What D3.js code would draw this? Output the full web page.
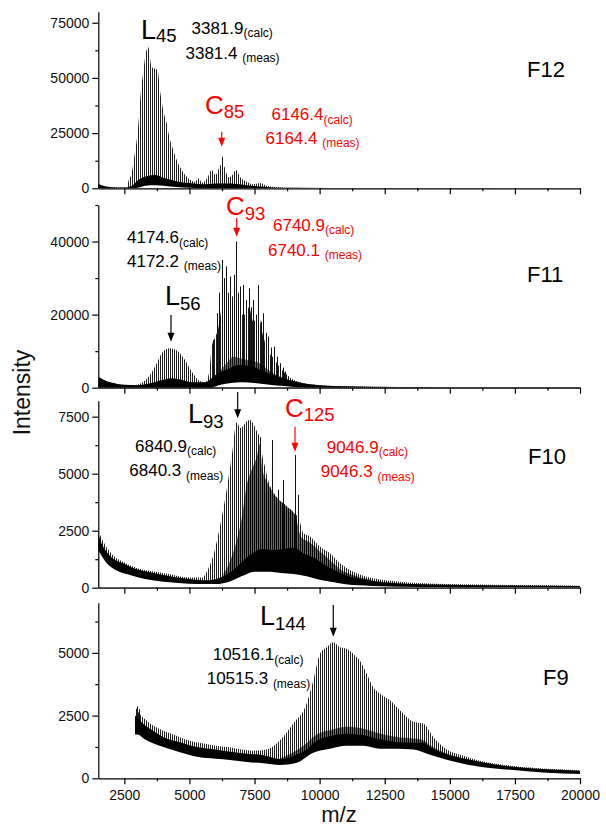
<!DOCTYPE html>
<html>
<head>
<meta charset="utf-8">
<script src="https://cdn.jsdelivr.net/npm/d3@7"></script>
<style>
body { margin: 0; background: #fff; }
svg { font-family: "Liberation Sans", Arial, sans-serif; }
</style>
</head>
<body>
<svg width="606" height="829"></svg>
<script>
// shared m/z axis
var mzDomain = [1500, 20000];
var mzMajor = [2500, 5000, 7500, 10000, 12500, 15000, 17500, 20000];
var mzMinor = [3750, 6250, 8750, 11250, 13750, 16250, 18750];

// fractions, top to bottom
var fractions = ['F12', 'F11', 'F10', 'F9'];
var yMax = [80000, 50000, 8200, 7000];
var yMajor = [[0, 25000, 50000, 75000], [0, 20000, 40000], [0, 2500, 5000, 7500], [0, 2500, 5000]];
var yMinor = [[12500, 37500, 62500], [10000, 30000, 50000], [1250, 3750, 6250], [1250, 3750, 6250]];

// [m/z, intensity]
// Env = tips of the dense spike series, Core = darker overlapped series,
// Band = solid black trace, BandLow = lower edge of that trace, Spikes = isolated tall peaks
var f12Env = [[1500,2000],[1800,800],[2200,400],[2600,400],[2652,3000],[2783,6900],[2882,14300],[2975,21800],[3063,32300],[3140,44400],[3228,52600],[3320,61000],[3420,63900],[3551,54900],[3677,54100],[3781,53400],[3869,44400],[3996,35300],[4127,29500],[4227,23300],[4380,17300],[4511,12800],[4703,8300],[4956,4600],[5213,3000],[5340,4600],[5500,2500],[5700,5000],[5855,8300],[6000,6000],[6170,10000],[6240,11000],[6330,10000],[6500,5000],[6650,6000],[6790,8300],[6950,5000],[7200,3000],[7450,1800],[7710,2400],[8000,1000],[8500,400],[9000,250],[10000,150],[12000,100],[20000,50]];
var f12Core = [];
var f12Band = [[1500,1900],[1700,1000],[2000,500],[2500,350],[2800,1200],[3035,3750],[3294,5200],[3677,6000],[4060,4500],[4572,3000],[5087,2250],[5500,1800],[6000,2200],[6400,2200],[6800,2000],[7200,1400],[7700,800],[8200,400],[9000,200],[12000,100],[20000,50]];
var f12BandLow = [[1500,0],[2800,0],[3100,500],[3300,1200],[3700,1400],[4000,1200],[4500,600],[5000,200],[5500,0],[20000,0]];
var f12Spikes = [[6240,14300]];

var f11Env = [[1500,3000],[1800,1800],[2200,1000],[2800,600],[3200,1500],[3485,3500],[3743,6700],[3935,9400],[4100,10500],[4254,10800],[4400,10600],[4572,9900],[4830,7600],[5087,4400],[5340,2100],[5598,1400],[5750,4000],[5855,11000],[6000,14000],[6100,16000],[6239,22000],[6400,24000],[6558,22000],[6700,24000],[6850,21000],[7000,20000],[7150,20000],[7287,22000],[7453,18000],[7645,20000],[7837,14000],[8030,10000],[8247,8000],[8478,5500],[8670,4000],[8862,2800],[9180,1600],[9500,1000],[10000,700],[11000,400],[13000,200],[20000,100]];
var f11Core = [[5800,1500],[6100,4000],[6400,6500],[6700,8500],[7000,8000],[7300,7500],[7600,7000],[7900,5500],[8200,4000],[8500,3000],[8900,2000],[9300,1200]];
var f11Band = [[1500,3000],[1700,2200],[2000,1400],[2500,800],[3000,700],[3500,1200],[4000,2200],[4300,2600],[4700,2200],[5100,1500],[5600,1500],[6000,3500],[6500,5200],[6900,6200],[7300,6000],[7700,5000],[8100,3800],[8500,2800],[9000,1800],[9500,1100],[10000,700],[11000,400],[13000,200],[20000,100]];
var f11BandLow = [[1500,0],[5800,0],[6200,800],[6600,1300],[7000,1500],[7500,1300],[8000,900],[8500,500],[9000,200],[9500,0],[20000,0]];
var f11Spikes = [[5900,13000],[6047,20400],[6150,26000],[6239,35000],[6320,30000],[6404,33200],[6480,26000],[6558,30400],[6640,25000],[6711,30900],[6788,40000],[6870,26000],[6942,27700],[7070,28100],[7160,24000],[7287,27200],[7370,22000],[7453,24000],[7540,20000],[7645,28100],[7737,18000],[7837,20400],[7930,15000],[8030,14000],[8140,11000],[8247,11200],[8360,8500],[8478,6700],[8580,5500],[8670,4400]];

var f10Env = [[1500,2500],[1700,2000],[2000,1500],[2500,1100],[3000,850],[4000,650],[5000,450],[5500,450],[5663,700],[5916,1400],[6173,2700],[6430,4300],[6623,5750],[6815,7250],[6950,7000],[7070,7100],[7200,7300],[7326,7350],[7450,7200],[7518,7050],[7610,6800],[7710,6600],[7800,5800],[7903,5300],[8050,4600],[8220,4200],[8412,3850],[8600,3700],[8796,3500],[8950,3300],[9180,3100],[9373,2400],[9630,2250],[10014,1800],[10398,1510],[10782,1070],[11293,700],[12061,410],[13086,260],[14879,160],[17437,120],[20000,90]];
var f10Core = [[6300,600],[6500,1000],[6800,2000],[7000,3000],[7200,4500],[7400,5200],[7600,5800],[7700,6300],[7800,5200],[8000,4600],[8200,4200],[8400,3900],[8600,3700],[8800,3500],[9000,3300],[9100,3000],[9300,2200],[9600,2000],[10000,1600],[10400,1200],[10800,800],[11300,550],[12000,350]];
var f10Band = [[1500,2350],[1600,2000],[1800,1600],[2100,1250],[2500,1050],[2720,920],[3300,720],[3996,560],[4700,420],[5280,340],[5700,330],[6200,450],[6600,700],[7000,1100],[7400,1500],[7800,1700],[8200,1650],[8600,1700],[9000,1750],[9400,1500],[9800,1300],[10200,1000],[10600,750],[11000,550],[11500,400],[12000,300],[13000,200],[15000,130],[17500,100],[20000,80]];
var f10BandLow = [[1500,1650],[1800,1100],[2200,750],[2720,560],[3300,380],[3996,260],[4700,200],[5280,160],[6000,160],[6500,250],[7000,500],[7500,700],[8000,700],[8500,650],[9000,600],[9500,500],[10000,350],[10500,250],[11000,150],[12000,80],[14000,30],[20000,10]];
var f10Spikes = [[7710,6600],[8159,6480],[8412,4300],[8604,4720],[9054,5820],[9180,4070]];

var f9Env = [[2909,2900],[3000,2700],[3300,2350],[3600,2100],[4000,1900],[4500,1700],[5000,1500],[5500,1400],[6000,1300],[6500,1250],[7000,1150],[7500,1100],[7967,1150],[8478,1520],[8990,2180],[9500,2980],[9756,3900],[10014,4960],[10270,5220],[10526,5420],[10782,5220],[11039,5160],[11293,4960],[11550,4690],[11807,4170],[12061,3630],[12318,3370],[12702,3110],[13086,2710],[13600,2250],[13980,2180],[14364,1650],[14880,1150],[15517,900],[16158,700],[17437,490],[18720,380],[20000,320]];
var f9Core = [[8478,790],[9119,1120],[9500,1400],[9756,1650],[10100,1850],[10398,1920],[11039,2050],[11677,1980],[12318,1790],[12960,1650],[13600,1590],[13980,1520],[14238,1320],[14880,990],[15500,800]];
var f9Band = [[2909,2500],[3000,2400],[3300,2100],[3600,1900],[3996,1650],[4600,1450],[5280,1250],[6000,1150],[6560,1060],[7200,980],[7837,920],[8478,770],[9119,950],[9500,1150],[9756,1400],[10100,1600],[10398,1680],[11039,1780],[11677,1720],[12318,1560],[12960,1450],[13600,1420],[13980,1420],[14238,1250],[14880,960],[15500,800],[16158,660],[17437,460],[18720,360],[20000,300]];
var f9BandLow = [[2909,1750],[3000,1750],[3300,1550],[3600,1400],[3996,1250],[4600,1050],[5280,860],[6000,780],[6560,730],[7200,650],[7837,600],[8478,530],[9119,620],[9756,1020],[10398,1180],[11039,1300],[11677,1300],[12318,1180],[12960,1180],[13600,1150],[14238,940],[14880,740],[16158,460],[17437,330],[18720,220],[20000,170]];
var f9Spikes = [[2973,2870],[3060,2750]];

var envs = [f12Env, f11Env, f10Env, f9Env];
var cores = [f12Core, f11Core, f10Core, f9Core];
var bands = [f12Band, f11Band, f10Band, f9Band];
var bandLows = [f12BandLow, f11BandLow, f10BandLow, f9BandLow];
var spikes = [f12Spikes, f11Spikes, f10Spikes, f9Spikes];

// layout
var left = 98.3, right = 580;
var panelTop = [11.7, 205, 400.7, 602.7];
var panelBottom = [188.3, 387.7, 587.7, 778.3];
var RED = '#ff0000';

// annotations: [panel, main, sub, x, y, size, subSize, subDy, colour]
var notes = [
  [0, 'L', '45', 141, 38.5, 27, 18.5, 3.5, '#000'],
  [0, '3381.9', '(calc)', 191.5, 33.5, 17, 12, 3.5, '#000'],
  [0, '3381.4 ', '(meas)', 185.5, 58.5, 17, 12, 3.5, '#000'],
  [0, 'C', '85', 205, 113.5, 26, 18.5, 4.5, RED],
  [0, '6146.4', '(calc)', 271.5, 120, 17, 12, 3.5, RED],
  [0, '6164.4 ', '(meas)', 265.5, 143.5, 17, 12, 3.5, RED],
  [0, 'F12', '', 527, 77, 22, 0, 0, '#000'],
  [1, '4174.6', '(calc)', 127, 243, 17, 12, 3.5, '#000'],
  [1, '4172.2 ', '(meas)', 127, 266.5, 17, 12, 3.5, '#000'],
  [1, 'C', '93', 226, 215, 26, 18.5, 4.5, RED],
  [1, '6740.9', '(calc)', 273, 230.5, 17, 12, 3.5, RED],
  [1, '6740.1 ', '(meas)', 268, 255.5, 17, 12, 3.5, RED],
  [1, 'L', '56', 165, 305, 27, 18.5, 4.5, '#000'],
  [1, 'F11', '', 527, 282, 22, 0, 0, '#000'],
  [2, 'L', '93', 188, 423.3, 27, 18.5, 4.5, '#000'],
  [2, 'C', '125', 285, 416.7, 26, 18.5, 4.5, RED],
  [2, '6840.9', '(calc)', 135, 451.5, 17, 12, 3.5, '#000'],
  [2, '6840.3 ', '(meas)', 129.3, 476, 17, 12, 3.5, '#000'],
  [2, '9046.9', '(calc)', 326.7, 452.7, 17, 12, 3.5, RED],
  [2, '9046.3 ', '(meas)', 320.7, 477.3, 17, 12, 3.5, RED],
  [2, 'F10', '', 528, 463.5, 22, 0, 0, '#000'],
  [3, 'L', '144', 260, 625, 27, 18.5, 4.5, '#000'],
  [3, '10516.1', '(calc)', 212.7, 660, 17, 12, 3.5, '#000'],
  [3, '10515.3 ', '(meas)', 206.7, 684, 17, 12, 3.5, '#000'],
  [3, 'F9', '', 543, 685, 22, 0, 0, '#000']
];
// arrows: [m/z, y from, y to (tip), colour]
var arrows = [
  [6240, 131.7, 146.7, RED],
  [6815, 218, 236.7, RED],
  [4292, 315, 341.7, '#000'],
  [6853, 392, 418.3, '#000'],
  [9054, 426.7, 451.7, RED],
  [10525, 605, 636.7, '#000']
];

var svg = d3.select('svg');
var defs = svg.append('defs');
// grey comb for the resolved spike series
var pat = defs.append('pattern').attr('id', 'stripes')
  .attr('patternUnits', 'userSpaceOnUse').attr('width', 2).attr('height', 4);
pat.append('rect').attr('width', 1).attr('height', 4).attr('fill', '#1e1e1e');
// darker comb where series overlap
var pat2 = defs.append('pattern').attr('id', 'dense')
  .attr('patternUnits', 'userSpaceOnUse').attr('width', 2).attr('height', 4);
pat2.append('rect').attr('width', 2).attr('height', 4).attr('fill', '#6a6a6a');
pat2.append('rect').attr('width', 1).attr('height', 4).attr('fill', '#000');

var x = d3.scaleLinear().domain(mzDomain).range([left, right]);

fractions.forEach(function(name, i) {
  var y = d3.scaleLinear().domain([0, yMax[i]]).range([panelBottom[i], panelTop[i]]);
  var g = svg.append('g');

  defs.append('clipPath').attr('id', 'clip' + i)
    .append('rect').attr('x', left).attr('y', panelTop[i])
    .attr('width', right - left).attr('height', panelBottom[i] - panelTop[i]);
  var plot = g.append('g').attr('clip-path', 'url(#clip' + i + ')');

  var area = d3.area()
    .x(function(d) { return x(d[0]); })
    .y0(y(0))
    .y1(function(d) { return y(d[1]); })
    .curve(d3.curveMonotoneX);

  plot.append('path').datum(envs[i]).attr('d', area).attr('fill', 'url(#stripes)');
  if (cores[i].length) {
    plot.append('path').datum(cores[i]).attr('d', area).attr('fill', 'url(#dense)');
  }
  plot.selectAll('line.spike').data(spikes[i]).enter().append('line')
    .attr('class', 'spike')
    .attr('x1', function(d) { return Math.round(x(d[0])) + 0.5; })
    .attr('x2', function(d) { return Math.round(x(d[0])) + 0.5; })
    .attr('y1', y(0))
    .attr('y2', function(d) { return y(d[1]); })
    .attr('stroke', '#111').attr('stroke-width', 1);
  plot.append('path').datum(bands[i]).attr('d', area).attr('fill', '#000');
  plot.append('path').datum(bandLows[i]).attr('d', area).attr('fill', '#fff');

  // y axis
  g.append('g').attr('transform', 'translate(' + left + ',0)')
    .call(d3.axisLeft(y).tickValues(yMajor[i]).tickSize(6).tickPadding(3)
      .tickSizeOuter(0).tickFormat(d3.format('d')));
  g.append('g').attr('transform', 'translate(' + left + ',0)')
    .call(d3.axisLeft(y).tickValues(yMinor[i]).tickSize(3).tickFormat(''))
    .select('.domain').remove();

  // x axis
  g.append('g').attr('transform', 'translate(0,' + panelBottom[i] + ')')
    .call(d3.axisBottom(x).tickValues(mzMajor).tickSize(6).tickPadding(6)
      .tickSizeOuter(0).tickFormat(i === 3 ? d3.format('d') : ''));
  g.append('g').attr('transform', 'translate(0,' + panelBottom[i] + ')')
    .call(d3.axisBottom(x).tickValues(mzMinor).tickSize(3).tickFormat(''))
    .select('.domain').remove();
});

svg.selectAll('.tick text').attr('font-size', 14).attr('fill', '#111')
  .attr('font-family', '"Liberation Sans", Arial, sans-serif');
svg.selectAll('.domain, .tick line').attr('stroke', '#000').attr('stroke-width', 1.2);

// annotations
notes.forEach(function(n) {
  var t = svg.append('text').attr('x', n[3]).attr('y', n[4])
    .attr('fill', n[8]).attr('font-size', n[5]);
  t.append('tspan').text(n[1]);
  if (n[2]) {
    t.append('tspan').attr('font-size', n[6]).attr('dy', n[7]).text(n[2]);
  }
});

arrows.forEach(function(a) {
  var ax = x(a[0]);
  svg.append('line').attr('x1', ax).attr('x2', ax).attr('y1', a[1]).attr('y2', a[2] - 6)
    .attr('stroke', a[3]).attr('stroke-width', 1.2);
  svg.append('path')
    .attr('d', 'M' + (ax - 3.5) + ',' + (a[2] - 9) + 'L' + (ax + 3.5) + ',' + (a[2] - 9) + 'L' + ax + ',' + a[2] + 'Z')
    .attr('fill', a[3]);
});

// axis titles
svg.append('text').attr('transform', 'translate(29.5,392.5) rotate(-90)')
  .attr('text-anchor', 'middle').attr('font-size', 23).attr('fill', '#111').text('Intensity');
svg.append('text').attr('x', 339).attr('y', 822)
  .attr('text-anchor', 'middle').attr('font-size', 22).attr('fill', '#111').text('m/z');
</script>
</body>
</html>
